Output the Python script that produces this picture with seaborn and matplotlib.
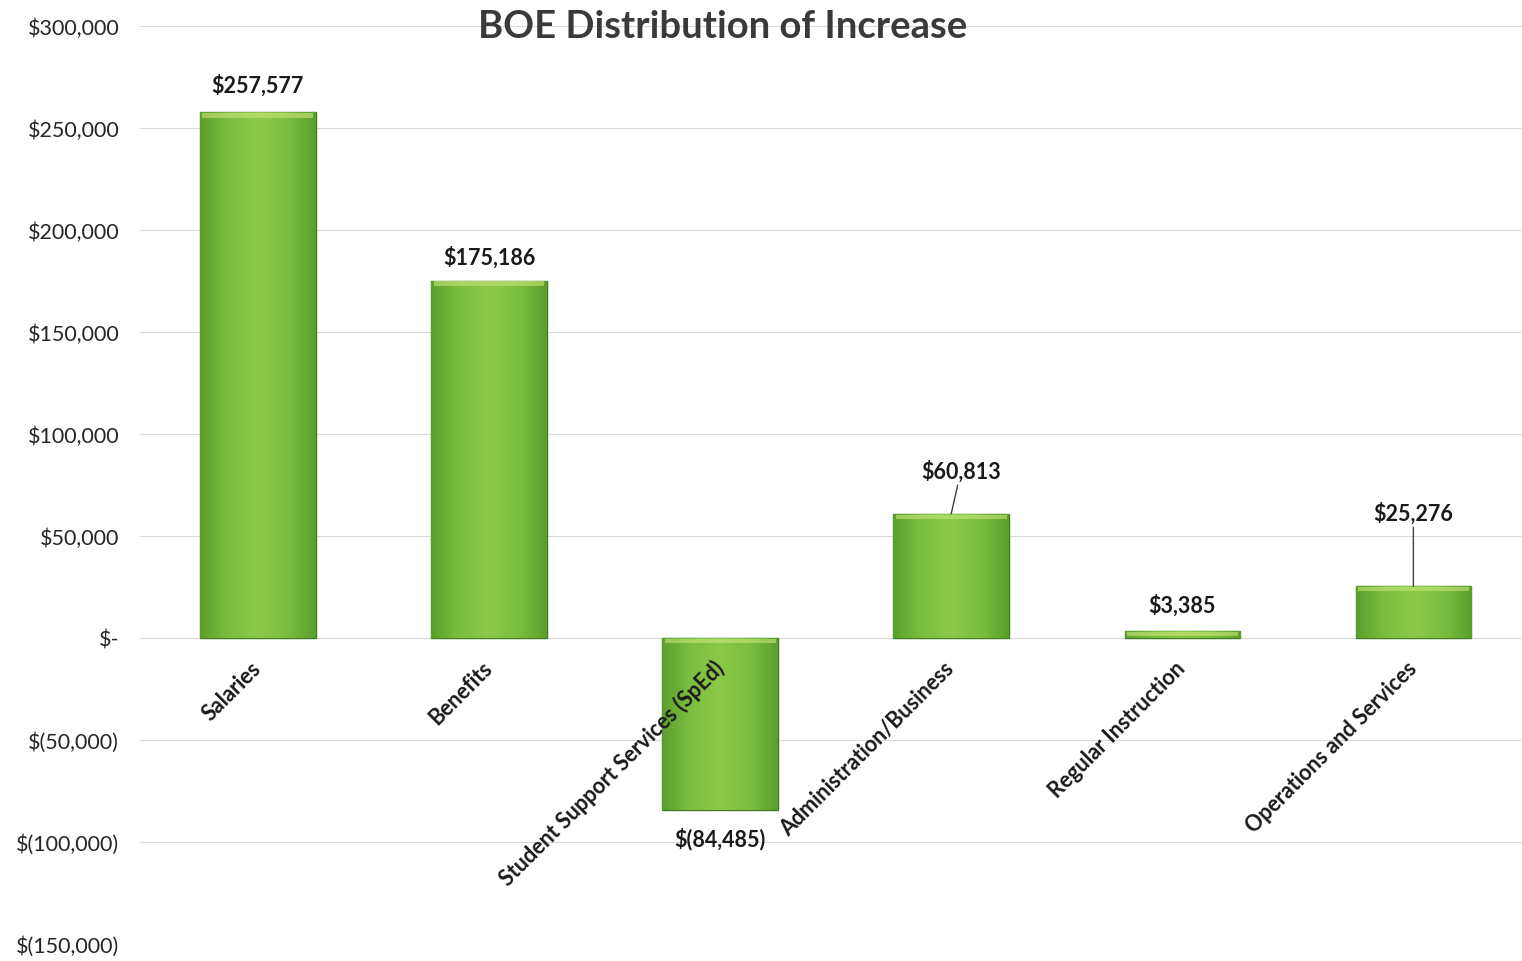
import numpy as np
import pandas as pd
import matplotlib
matplotlib.use("Agg")
import matplotlib.pyplot as plt
import matplotlib.colors as mcolors
import seaborn as sns

categories = ["Salaries", "Benefits", "Student Support Services (SpEd)",
              "Administration/Business", "Regular Instruction", "Operations and Services"]
values = [257577, 175186, -84485, 60813, 3385, 25276]
value_labels = ["$257,577", "$175,186", "$(84,485)", "$60,813", "$3,385", "$25,276"]
yticks = [-150000, -100000, -50000, 0, 50000, 100000, 150000, 200000, 250000, 300000]
title = "BOE Distribution of Increase"

sns.set_theme(style="white")
plt.rcParams['font.family'] = ['Lato', 'DejaVu Sans']

df = pd.DataFrame({"category": categories, "value": values})

fig = plt.figure(figsize=(15.22, 9.62), dpi=100)
ax = fig.add_axes([0.092, 0.0177, 0.908, 0.9543])

sns.barplot(data=df, x="category", y="value", ax=ax, width=0.5,
            color="#78bb3c", edgecolor="#3f7a1e", linewidth=1.0, zorder=3)

ax.set_ylim(-150000, 300000)
ax.set_xlim(-0.51, 5.47)
ax.set_yticks(yticks)

def fmt(v):
    if v == 0:
        return "$-"
    if v < 0:
        return "$({:,.0f})".format(-v)
    return "${:,.0f}".format(v)

ax.set_yticklabels([fmt(v) for v in yticks], fontsize=15.5, color="#262626")
ax.yaxis.grid(True, color="#dadada", linewidth=0.8, zorder=0)
ax.xaxis.grid(False)
for s in ax.spines.values():
    s.set_visible(False)
ax.spines["bottom"].set_position(("data", 0))
ax.tick_params(axis="y", length=0, pad=15)
ax.tick_params(axis="x", length=0, pad=19)
ax.set_xlabel("")
ax.set_ylabel("")
ax.xaxis.set_zorder(10)

# gradient fill clipped to each bar
grad_cmap = mcolors.LinearSegmentedColormap.from_list(
    "g", ["#5c9e2c", "#7cbf40", "#8cc848", "#7cbf40", "#5c9e2c"])
hgrad = np.linspace(0, 1, 256).reshape(1, -1)
for p in ax.patches:
    x0, y0 = p.get_x(), p.get_y()
    w, h = p.get_width(), p.get_height()
    im = ax.imshow(hgrad, cmap=grad_cmap, aspect="auto",
                   extent=[x0, x0 + w, y0, y0 + h], zorder=3.5,
                   interpolation="bicubic")
    im.set_clip_path(p)
    top = max(y0, y0 + h)
    ax.fill_between([x0 + w * 0.02, x0 + w * 0.98], top - 2500, top - 300,
                    color="#c9e57a", alpha=0.6, zorder=3.6, linewidth=0)
ax.set_xlim(-0.51, 5.47)
ax.set_ylim(-150000, 300000)

# x tick labels
ax.set_xticks(range(len(categories)))
ax.set_xticklabels(categories, rotation=45, ha="right", va="center",
                   rotation_mode="anchor", fontsize=15.5, fontweight="bold",
                   color="#1a1a1a")

# value labels
offsets = [(0, 20), (0, 17), (0, -20), (7, 23), (0, 19), (0, 45)]
leader = [False, False, False, True, False, True]
for i, (v, lab) in enumerate(zip(values, value_labels)):
    dx, dy = offsets[i]
    if leader[i]:
        ax.annotate(lab, xy=(i, v), xytext=(dx, dy), textcoords="offset points",
                    ha="center", va="bottom", fontsize=15.5, fontweight="bold",
                    color="#1a1a1a",
                    arrowprops=dict(arrowstyle="-", color="#404040", lw=1.0,
                                    shrinkA=0, shrinkB=0), zorder=6)
    else:
        ax.annotate(lab, xy=(i, v), xytext=(dx, dy), textcoords="offset points",
                    ha="center", va="center", fontsize=15.5, fontweight="bold",
                    color="#1a1a1a", zorder=6)

fig.text(0.475, 0.972, title, ha="center", va="center", fontsize=27.5,
         fontweight="bold", color="#3a3a3a")

fig.savefig("out.png", dpi=100, facecolor="white")
